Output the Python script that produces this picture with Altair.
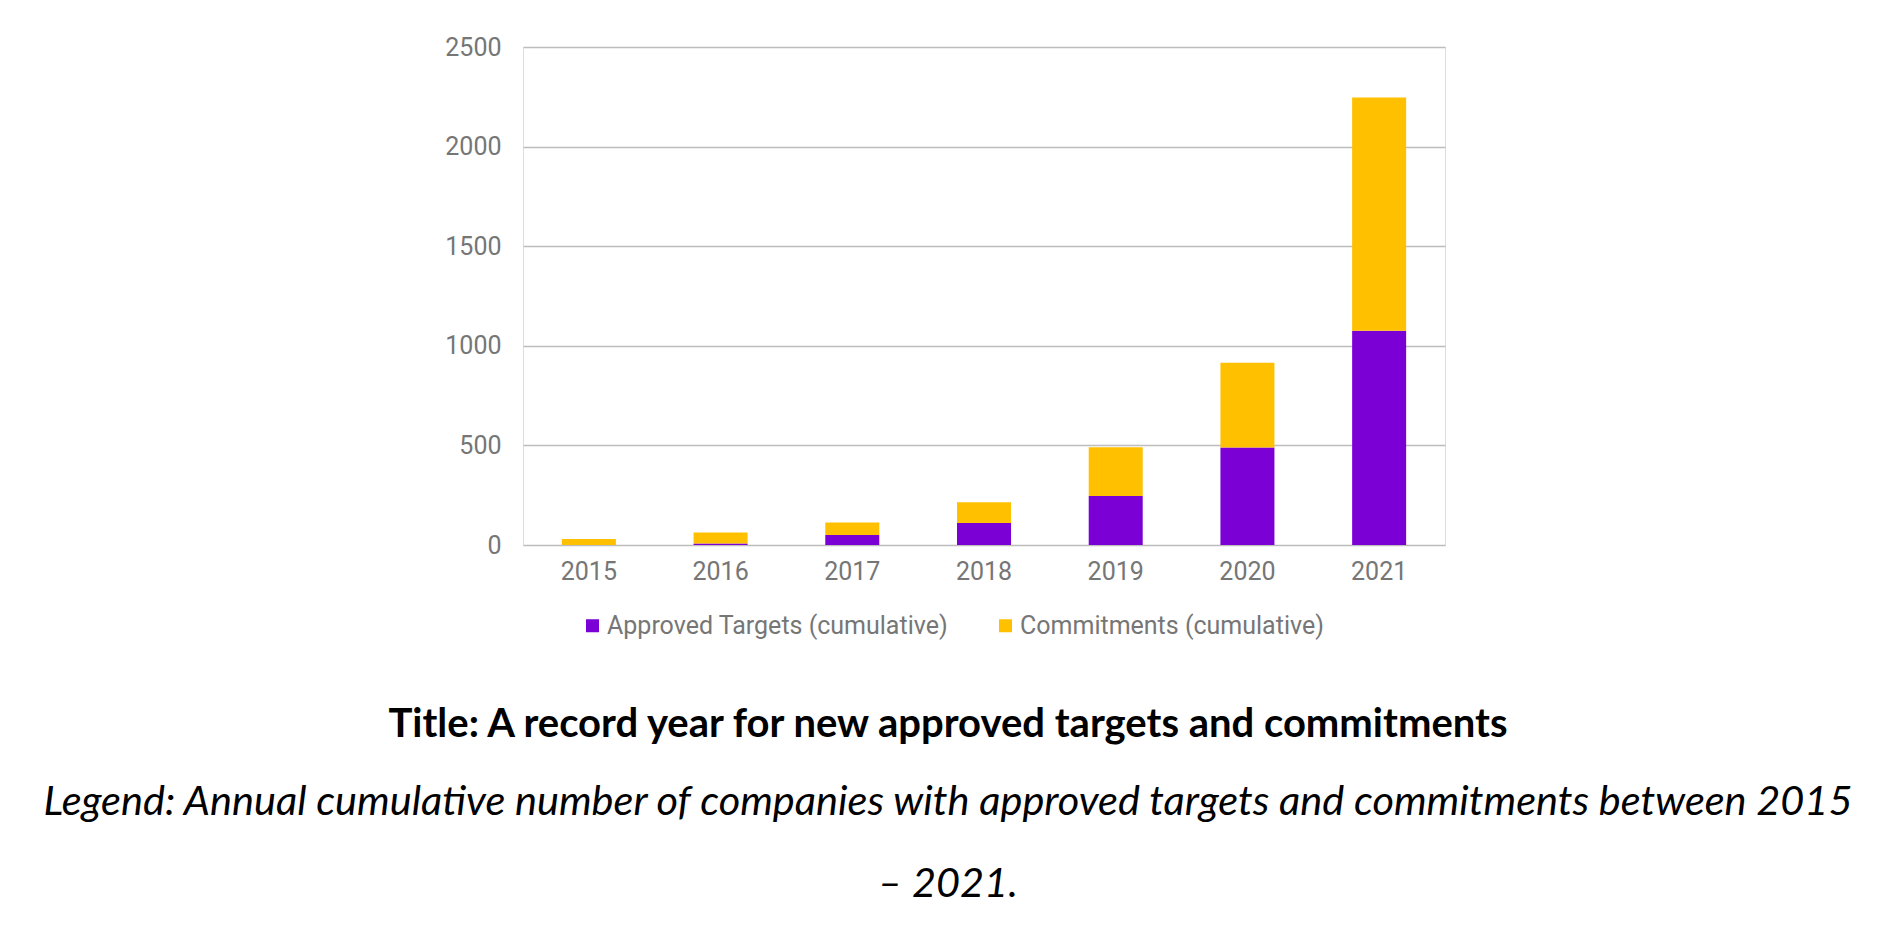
import altair as alt
import pandas as pd

years = ["2015", "2016", "2017", "2018", "2019", "2020", "2021"]
approved = [0, 8, 50, 110, 246, 490, 1076]
commitments = [30, 55, 63, 105, 245, 425, 1170]
series_names = ["Approved Targets (cumulative)", "Commitments (cumulative)"]
series_colors = ["#7A00D6", "#FFC000"]
y_ticks = [0, 500, 1000, 1500, 2000, 2500]

title_text = "Title: A record year for new approved targets and commitments"
caption_line1 = "Legend: Annual cumulative number of companies with approved targets and commitments between 2015"
caption_line2 = "\u2013 2021."

rows = []
for i, y in enumerate(years):
    rows.append({"year": y, "series": series_names[0], "value": approved[i], "ord": 0})
    rows.append({"year": y, "series": series_names[1], "value": commitments[i], "ord": 1})
df = pd.DataFrame(rows)

LABEL_FONT = "Roboto"
LABEL_COLOR = "#767676"

bars = alt.Chart(df).mark_bar(size=54).encode(
    x=alt.X("year:N", sort=years, title=None,
            scale=alt.Scale(paddingInner=0.59, paddingOuter=0.295),
            axis=alt.Axis(labelAngle=0, ticks=False, domain=False, grid=False,
                          labelPadding=14, labelFontSize=25, labelFont=LABEL_FONT,
                          labelColor=LABEL_COLOR)),
    y=alt.Y("value:Q", stack="zero", title=None,
            scale=alt.Scale(domain=[0, 2500], nice=False),
            axis=alt.Axis(values=y_ticks, format="d", ticks=False, domain=False, grid=True,
                          gridColor="#bdbdbd", gridWidth=1.6,
                          labelPadding=22, labelFontSize=25, labelFont=LABEL_FONT,
                          labelColor=LABEL_COLOR)),
    color=alt.Color("series:N", sort=series_names,
                    scale=alt.Scale(domain=series_names, range=series_colors),
                    legend=alt.Legend(title=None, orient="none", direction="horizontal",
                                      legendX=57, legendY=566, symbolType="square",
                                      symbolSize=169, symbolStrokeWidth=0,
                                      labelFontSize=25, labelFont=LABEL_FONT,
                                      labelColor=LABEL_COLOR, labelOffset=2,
                                      labelLimit=0, columnPadding=44, padding=0)),
    order=alt.Order("ord:Q", sort="ascending"),
)

title_layer = alt.Chart(pd.DataFrame({"t": [title_text]})).mark_text(
    font="Lato", fontWeight="bold", fontSize=40, color="#000000",
    align="center", baseline="middle"
).encode(text="t:N", x=alt.value(425), y=alt.value(678))

cap1_layer = alt.Chart(pd.DataFrame({"t": [caption_line1]})).mark_text(
    font="Lato", fontStyle="italic", fontSize=41.5, color="#000000",
    align="center", baseline="middle"
).encode(text="t:N", x=alt.value(425), y=alt.value(756))

cap2_layer = alt.Chart(pd.DataFrame({"t": [caption_line2]})).mark_text(
    font="Lato", fontStyle="italic", fontSize=41.5, color="#000000",
    align="center", baseline="middle"
).encode(text="t:N", x=alt.value(425), y=alt.value(838))

chart = alt.layer(bars, title_layer, cap1_layer, cap2_layer).properties(
    width=922, height=498,
    autosize=alt.AutoSizeParams(type="none"),
    padding={"left": 515, "top": 39, "right": 440, "bottom": 386},
).configure_view(stroke=None).configure(background="#ffffff")

chart.save("out.html", embed_options={"renderer": "svg", "actions": False})
